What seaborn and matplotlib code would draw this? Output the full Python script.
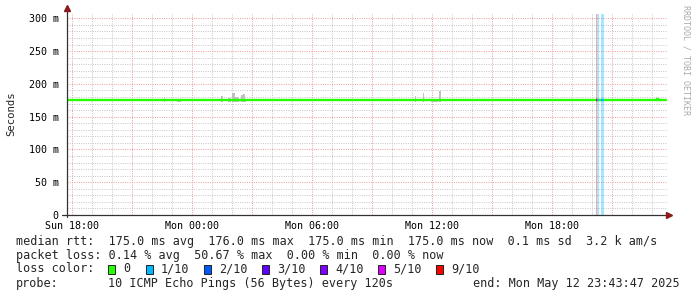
import matplotlib
matplotlib.use("Agg")
import matplotlib.pyplot as plt
from matplotlib.patches import Rectangle
import seaborn as sns
import pandas as pd

# ---------------- data ----------------
# time in hours since Sun 00:00
t_start = 17 + 43/60 + 47/3600          # Sun 17:43:47
t_end = t_start + 30                     # Mon 23:43:47

# median rtt (ms), step values
med_t = [17.73, 47.21, 47.28, 47.68]
med_v = [175.0, 176.5, 175.0, 175.0]

# loss periods: start hour, end hour, loss level label
loss_start = [44.18, 44.24, 44.42]
loss_end = [44.24, 44.32, 44.57]
loss_level = ["9/10", "1/10", "1/10"]

# smoke (ping spread) bars: start hour, end hour, max rtt (ms)
smoke_start = [22.58, 23.24, 25.41, 25.79, 25.98, 26.11, 26.41, 26.51, 26.61, 35.13, 35.51, 35.93, 36.34]
smoke_end   = [22.63, 23.42, 25.53, 25.93, 26.11, 26.33, 26.51, 26.61, 26.68, 35.18, 35.58, 36.28, 36.43]
smoke_max   = [180.0, 176.5, 181.5, 179.0, 186.5, 179.5, 183.0, 184.0, 176.5, 181.5, 186.5, 177.4, 189.0]

loss_names = ["0", "1/10", "2/10", "3/10", "4/10", "5/10", "9/10"]
loss_colors = ["#26ff00", "#00b8ff", "#0059ff", "#5e00ff", "#7e00ff", "#dd00ff", "#ff0000"]

y_ticks = [0, 50, 100, 150, 200, 250, 300]
y_tick_labels = ["0", "50 m", "100 m", "150 m", "200 m", "250 m", "300 m"]
x_ticks = [18, 24, 30, 36, 42]
x_tick_labels = ["Sun 18:00", "Mon 00:00", "Mon 06:00", "Mon 12:00", "Mon 18:00"]

row_median = "median rtt:  175.0 ms avg  176.0 ms max  175.0 ms min  175.0 ms now  0.1 ms sd  3.2 k am/s"
row_loss = "packet loss: 0.14 % avg  50.67 % max  0.00 % min  0.00 % now"
probe_text = "10 ICMP Echo Pings (56 Bytes) every 120s"
end_text = "end: Mon May 12 23:43:47 2025"

# ---------------- style ----------------
sns.set_style("white")
plt.rcParams["font.family"] = ["DejaVu Sans Mono", "DejaVu Sans"]
MONO = "DejaVu Sans Mono"

W, H = 697, 297
fig = plt.figure(figsize=(W/100, H/100), dpi=100)
fig.patch.set_facecolor("white")
ax = fig.add_axes([67/W, 82/H, 600/W, 200.9/H])
ax.set_facecolor("white")
ax.set_xlim(t_start, t_end)
ax.set_ylim(0, 306.5)
for s in ax.spines.values():
    s.set_visible(False)

# grid
dot = (0, (1, 1.3))
gkw = dict(lw=0.72, ls=dot)
for y in range(10, 307, 10):
    if y % 50:
        ax.axhline(y, color="#c8c8c8", zorder=0, **gkw)
for h in range(18, 48):
    if h % 3:
        ax.axvline(h, color="#c8c8c8", zorder=0, **gkw)
for y in range(50, 307, 50):
    ax.axhline(y, color="#eea0a0", zorder=0.5, **gkw)
for h in range(18, 48, 3):
    ax.axvline(h, color="#eea0a0", zorder=0.5, **gkw)

# smoke
ax.bar(smoke_start, [m - 173 for m in smoke_max],
       width=[e - s for s, e in zip(smoke_start, smoke_end)], bottom=173,
       align="edge", color="#c0c0c0", lw=0, zorder=2)

# loss bars
cmap = dict(zip(loss_names, loss_colors))
for s, e, lv in zip(loss_start, loss_end, loss_level):
    ax.axvspan(s, e, color=cmap[lv], alpha=0.35, lw=0, zorder=2)

# median line
df = pd.DataFrame({"t": med_t + [t_end - 0.05], "v": med_v + [med_v[-1]]})
sns.lineplot(data=df, x="t", y="v", ax=ax, color=cmap["0"], lw=1.7,
             drawstyle="steps-post", sort=False, estimator=None, zorder=4)
for s, e, lv in zip(loss_start, loss_end, loss_level):
    ax.plot([s, e], [175, 175], color=cmap[lv], lw=1.7, solid_capstyle="butt", zorder=5)

ax.set_xlabel("")
ax.set_ylabel("")

# ticks
ax.set_yticks(y_ticks)
ax.set_yticklabels(y_tick_labels, family=MONO, fontsize=7.2)
ax.set_xticks(x_ticks)
ax.set_xticklabels(x_tick_labels, family=MONO, fontsize=7.2)
ax.tick_params(axis="y", length=0, pad=6, colors="black")
ax.tick_params(axis="x", length=0, pad=4, colors="black")

# axes with arrows
axc = "#333333"
ax.plot([0, 0], [-0.012, 1.02], color=axc, lw=0.9, transform=ax.transAxes, clip_on=False, zorder=6)
ax.plot([-0.009, 1.0], [0, 0], color=axc, lw=0.9, transform=ax.transAxes, clip_on=False, zorder=6)
ax.plot([0], [1.03], marker="^", ms=4.5, color="#8b1a1a", transform=ax.transAxes, clip_on=False, zorder=7)
ax.plot([1.004], [0], marker=">", ms=4.5, color="#8b1a1a", transform=ax.transAxes, clip_on=False, zorder=7)

# y label
fig.text(11/W, 1 - 114/H, "Seconds", rotation=90, va="center", ha="center", family=MONO, fontsize=7.7)
# watermark
fig.text(686/W, 1 - 60/H, "RRDTOOL / TOBI OETIKER", rotation=270, va="center", ha="center",
         family=MONO, fontsize=6, color="#aaaaaa")

# legend
def px(x, y):
    return x / W, 1 - y / H

fs = 8.45
fig.text(*px(16, 241.5), row_median, va="center", ha="left", family=MONO, fontsize=fs)
fig.text(*px(16, 255.5), row_loss, va="center", ha="left", family=MONO, fontsize=fs)

yc = 269
fig.text(*px(16, yc), "loss color:", va="center", ha="left", family=MONO, fontsize=fs)
box_x = [108, 146, 204, 262, 320, 378, 436]
for bx, name, col in zip(box_x, loss_names, loss_colors):
    fig.patches.append(Rectangle(((bx) / W, 1 - (yc + 4.5) / H), 7 / W, 9 / H,
                                 transform=fig.transFigure, facecolor=col, edgecolor="#222222", lw=0.7))
    fig.text(*px(bx + 15, yc), name, va="center", ha="left", family=MONO, fontsize=fs)

yc = 283
fig.text(*px(16, yc), "probe:", va="center", ha="left", family=MONO, fontsize=fs)
fig.text(*px(107.6, yc), probe_text, va="center", ha="left", family=MONO, fontsize=fs)
fig.text(*px(680, yc), end_text, va="center", ha="right", family=MONO, fontsize=fs)

fig.savefig("out.png", dpi=100)
